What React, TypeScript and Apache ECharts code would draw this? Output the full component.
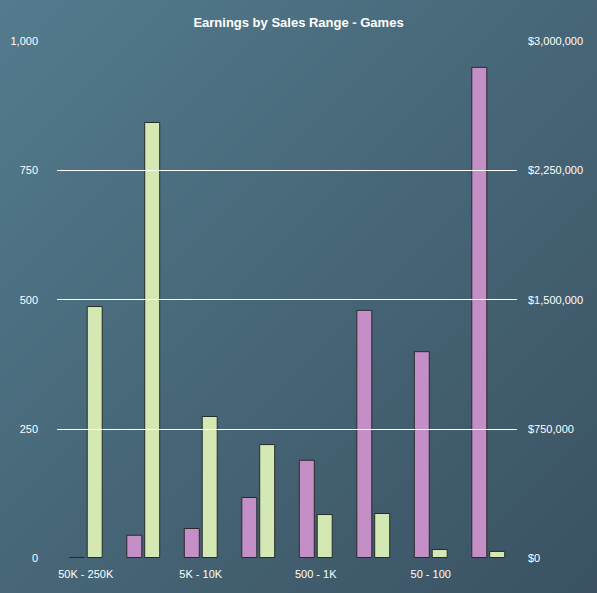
import React, { useEffect, useRef } from "react";
import * as echarts from "echarts";

const categories = ["50K - 250K", "10K - 50K", "5K - 10K", "1K - 5K", "500 - 1K", "100 - 500", "50 - 100", "< 50"];
const gameCounts = [2, 45, 58, 118, 190, 480, 400, 950];
const earnings = [1462000, 2530000, 824000, 661000, 255000, 261000, 52000, 41000];
const gridLineValues = [250, 500, 750];

const App: React.FC = () => {
    const ref = useRef<HTMLDivElement | null>(null);

    useEffect(() => {
        if (!ref.current) return;
        const chart = echarts.init(ref.current, undefined, { renderer: "svg" });
        const labelStyle = { color: "#ffffff", fontSize: 11, fontFamily: "Liberation Sans" };
        chart.setOption({
            animation: false,
            backgroundColor: new echarts.graphic.LinearGradient(0, 0, 1, 1, [
                { offset: 0, color: "#537b8d" },
                { offset: 1, color: "#3a5262" }
            ]),
            title: {
                text: "Earnings by Sales Range - Games",
                left: "center",
                top: 11,
                textStyle: { color: "#ffffff", fontSize: 13, fontWeight: "bold", fontFamily: "Liberation Sans" }
            },
            grid: { left: 57, right: 80, top: 41, bottom: 35 },
            xAxis: {
                type: "category",
                data: categories,
                axisLine: { show: false },
                axisTick: { show: false },
                axisLabel: { ...labelStyle, margin: 10 }
            },
            yAxis: [
                {
                    type: "value",
                    min: 0,
                    max: 1000,
                    interval: 250,
                    splitLine: { show: false },
                    axisLabel: { ...labelStyle, margin: 19, formatter: (v: number) => v.toLocaleString("en-US") }
                },
                {
                    type: "value",
                    min: 0,
                    max: 3000000,
                    interval: 750000,
                    splitLine: { show: false },
                    axisLabel: { ...labelStyle, margin: 11, formatter: (v: number) => "$" + v.toLocaleString("en-US") }
                }
            ],
            series: [
                {
                    type: "bar",
                    yAxisIndex: 0,
                    data: gameCounts,
                    barWidth: 16,
                    barGap: "12%",
                    itemStyle: { color: "#c48fc6", borderColor: "#2a2a2a", borderWidth: 1 },
                    markLine: {
                        silent: true,
                        symbol: "none",
                        label: { show: false },
                        lineStyle: { color: "#ffffff", width: 1, type: "solid" },
                        data: gridLineValues.map((v) => ({ yAxis: v }))
                    },
                    z: 3
                },
                {
                    type: "bar",
                    yAxisIndex: 1,
                    data: earnings,
                    barWidth: 16,
                    itemStyle: { color: "#d4e8b4", borderColor: "#2a2a2a", borderWidth: 1 },
                    z: 3
                }
            ]
        });
        return () => chart.dispose();
    }, []);

    return <div ref={ref} style={{ position: "fixed", left: 0, top: 0, width: 597, height: 593 }} />;
};

export default App;
